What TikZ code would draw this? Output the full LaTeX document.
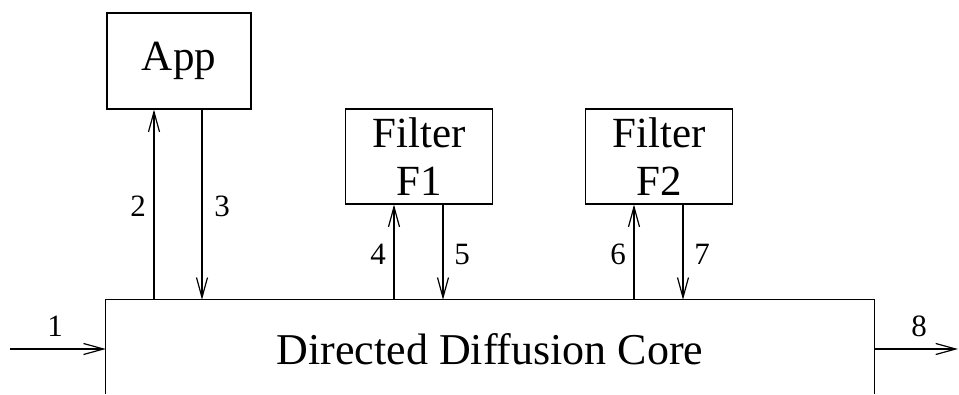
\documentclass[tikz,border=0pt]{standalone}
\usepackage{fontspec}
\setmainfont{Liberation Serif}
\newfontfamily\diagfont{Liberation Serif}
\usetikzlibrary{arrows.meta}
\begin{document}
\begin{tikzpicture}[x=1pt,y=-1pt,
  box/.style={draw,line width=1.2pt,rectangle,inner sep=0pt,font=\diagfont\fontsize{43}{48}\selectfont,align=center},
  arr/.style={line width=1.2pt,-{Straight Barb[length=20pt,width=11pt,line width=1.2pt]}},
  lab/.style={inner sep=0pt,font=\diagfont\fontsize{31}{34}\selectfont},
  edge/.style={line width=1.2pt}]
\useasboundingbox (0,0) rectangle (959,394);
\node[box,minimum width=144pt,minimum height=96pt] (app) at (179,61) {App};
\node[box,minimum width=147pt,minimum height=95pt] (f1) at (419,156.5) {Filter\\F1};
\node[box,minimum width=147pt,minimum height=95pt] (f2) at (659,156.5) {Filter\\F2};
\node[inner sep=0pt,minimum width=768pt,minimum height=98pt,font=\diagfont\fontsize{44}{48}\selectfont] (core) at (490,349) {Directed Diffusion Core};
\coordinate (bot) at (0,394);
\draw[edge] (core.west |- bot) -- (core.north west) -- (core.north east) -- (core.east |- bot);
\coordinate (a2) at (154,0);
\coordinate (a3) at (202,0);
\coordinate (a4) at (394,0);
\coordinate (a5) at (443,0);
\coordinate (a6) at (634,0);
\coordinate (a7) at (683,0);
\coordinate (in) at (10,349);
\coordinate (out) at (958,349);
\draw[arr] (a2 |- core.north) -- (a2 |- app.south);
\draw[arr] (a3 |- app.south) -- (a3 |- core.north);
\draw[arr] (a4 |- core.north) -- (a4 |- f1.south);
\draw[arr] (a5 |- f1.south) -- (a5 |- core.north);
\draw[arr] (a6 |- core.north) -- (a6 |- f2.south);
\draw[arr] (a7 |- f2.south) -- (a7 |- core.north);
\draw[arr] (in) -- (core.west |- in);
\draw[arr] (core.east |- out) -- (out);
\node[lab] (l1) at (55,326) {1};
\node[lab] (l2) at (138,206) {2};
\node[lab] (l3) at (222,206) {3};
\node[lab] (l4) at (378,254) {4};
\node[lab] (l5) at (462,254) {5};
\node[lab] (l6) at (618,254) {6};
\node[lab] (l7) at (702,254) {7};
\node[lab] (l8) at (919,326) {8};
\end{tikzpicture}
\end{document}
